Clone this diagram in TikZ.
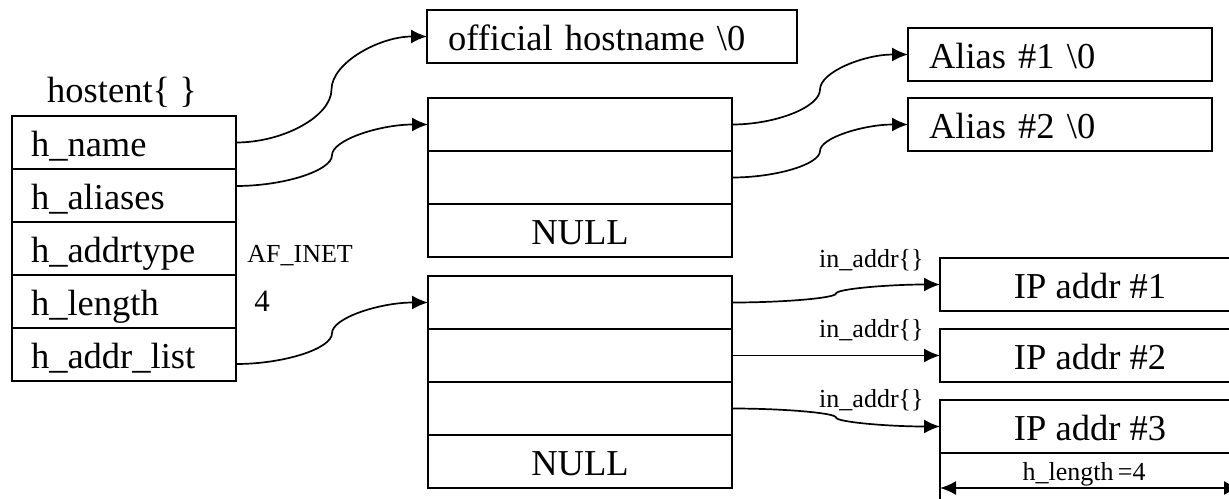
\documentclass[tikz,border=0pt]{standalone}
\usepackage{fontspec}
\setmainfont{Liberation Serif}
\usetikzlibrary{positioning,calc,arrows.meta}

\newcommand\cellfont{\fontsize{18.25pt}{20pt}\selectfont}
\newcommand\tagfont{\fontsize{13pt}{15pt}\selectfont}

\tikzset{
  box/.style={draw, rectangle, line width=0.9pt, inner sep=0pt, outer sep=0pt,
    minimum height=26.5pt, text height=13.5pt, text depth=0pt, font=\cellfont},
  field/.style={box, text width=93pt, inner xsep=9.5pt, align=left},
  slot/.style={box, minimum width=152pt},
  strbox/.style={box, text width=#1, inner xsep=10.5pt, align=left},
  ipbox/.style={box, minimum width=150pt},
  tag/.style={inner sep=0pt, font=\tagfont},
  link/.style={line width=0.85pt, -{Latex[length=8pt,width=7pt]}},
  dim/.style={line width=0.85pt, {Latex[length=8pt,width=7pt]}-{Latex[length=8pt,width=7pt]}},
  jog/.style={to path={let \p1=(\tikztostart), \p2=(\tikztotarget) in
    .. controls +({(\x2-\x1)/4},0pt) and +(0pt,{(\y1-\y2)/4}) .. ($(\p1)!.5!(\p2)$)
    .. controls +(0pt,{(\y2-\y1)/4}) and +({(\x1-\x2)/4},0pt) .. (\p2)}}
}

\begin{document}
\begin{tikzpicture}[x=0.5pt, y=-0.5pt]
    \useasboundingbox (0,0) rectangle (1229,498);
    \clip (0,0) rectangle (1229,498);

    % hostent structure
    \node[anchor=base, inner sep=0pt, font=\cellfont] (title) at (122,102) {hostent\{ \}};
    \node[field, anchor=north west] (hname) at (12,116) {h\_name};
    \node[field, below=0pt of hname] (haliases) {h\_aliases};
    \node[field, below=0pt of haliases] (haddrtype) {h\_addrtype};
    \node[field, below=0pt of haddrtype] (hlength) {h\_length};
    \node[field, below=0pt of hlength] (haddrlist) {h\_addr\_list};

    \node[tag, anchor=base west] (afinet) at (247,262) {AF\_INET};
    \node[anchor=base west, inner sep=0pt, font=\fontsize{15.5pt}{17pt}\selectfont] (four) at (254,311) {4};

    \node[strbox=164pt, anchor=north west] (official) at (427,10) {official hostname \textbackslash 0};

    % alias pointers
    \node[slot, anchor=north west] (ali1) at (428,98) {};
    \node[slot, below=0pt of ali1] (ali2) {};
    \node[slot, below=0pt of ali2] (alinull) {NULL};
    \node[strbox=131pt, anchor=north west] (alias1) at (908,28) {Alias \#1 \textbackslash 0};
    \node[strbox=131pt, anchor=north west] (alias2) at (908,98) {Alias \#2 \textbackslash 0};

    % address pointers
    \node[slot, anchor=north west] (adr1) at (428,276) {};
    \node[slot, below=0pt of adr1] (adr2) {};
    \node[slot, below=0pt of adr2] (adr3) {};
    \node[slot, below=0pt of adr3] (adrnull) {NULL};
    \node[ipbox, anchor=north west] (ip1) at (940,258) {IP addr \#1};
    \node[ipbox, anchor=north west] (ip2) at (940,329) {IP addr \#2};
    \node[ipbox, anchor=north west] (ip3) at (940,400) {IP addr \#3};

    \node[tag, anchor=base east] (inaddr1) at (924,267) {in\_addr\{\}};
    \node[tag, anchor=base east] (inaddr2) at (924,337) {in\_addr\{\}};
    \node[tag, anchor=base east] (inaddr3) at (924,407) {in\_addr\{\}};

    % h_length dimension
    \coordinate (extL) at (940,505);
    \coordinate (extR) at (1240,505);
    \coordinate (dimL) at (940,488);
    \coordinate (dimR) at (1240,488);
    \draw[line width=0.9pt] (ip3.south west) -- (extL);
    \draw[line width=0.9pt] (ip3.south east) -- (extR);
    \draw[dim] (dimL) -- (dimR);
    \node[tag, anchor=base] (hlen) at (1084,480) {h\_length\,=4};

    % pointers
    \draw[link] (hname.east) to[jog] (official.west);
    \draw[link] ([yshift=4.75pt]haliases.east) to[jog] (ali1.west);
    \draw[link] ([yshift=-4.75pt]haddrlist.east) to[jog] (adr1.west);
    \draw[link] (ali1.east) to[jog] (alias1.west);
    \draw[link] (ali2.east) to[jog] (alias2.west);
    \draw[link] (adr1.east) to[jog] (ip1.west);
    \draw[link] (adr2.east) to[jog] (ip2.west);
    \draw[link] (adr3.east) to[jog] (ip3.west);
\end{tikzpicture}
\end{document}
